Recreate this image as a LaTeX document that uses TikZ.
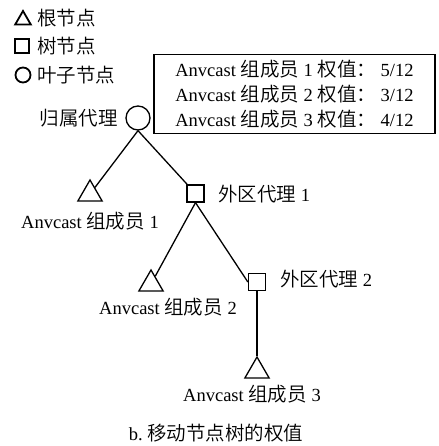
\documentclass[tikz,border=0pt]{standalone}
\usepackage{fontspec}
\setmainfont{Liberation Serif}
\newfontfamily\cjk{Noto Sans CJK SC}[UprightFont={* DemiLight}]
\newcommand\zh[1]{{\cjk\fontsize{19.5}{22}\selectfont #1}}
\usetikzlibrary{shapes.geometric}

\begin{document}
\begin{tikzpicture}[x=1pt, y=-1pt,
		every node/.style={font=\fontsize{18.5}{22}\selectfont, inner sep=0pt},
		tri/.style={draw, regular polygon, regular polygon sides=3, minimum size=28pt, line width=1.3pt},
		sq/.style={draw, rectangle, minimum size=17pt, line width=1.3pt},
		leaf/.style={draw, circle, minimum size=24pt, line width=1.3pt},
		edge/.style={line width=1.3pt}]
		%%%%% START %%%%%
		
		\useasboundingbox (0, 0) rectangle (438, 446);
		
		% legend
		\node[draw, regular polygon, regular polygon sides=3, minimum size=18pt, line width=1.8pt] (keyroot) at (23, 20) {};
		\node[anchor=west] (keyroottext) at (37, 18) {\zh{根节点}};
		\node[draw, rectangle, minimum size=14pt, line width=1.8pt] (keytree) at (22, 46) {};
		\node[anchor=west] (keytreetext) at (37, 46) {\zh{树节点}};
		\node[draw, circle, minimum size=15pt, line width=1.8pt] (keyleaf) at (23, 75) {};
		\node[anchor=west] (keyleaftext) at (37, 75) {\zh{叶子节点}};
		
		% weights
		\node[draw, line width=1.8pt, minimum width=281pt, minimum height=79pt, align=left,
			font=\fontsize{18.5}{25}\selectfont] (weights) at (294.5, 94) {%
			Anvcast \zh{组成员} 1 \zh{权值：} 5/12\\
			Anvcast \zh{组成员} 2 \zh{权值：} 3/12\\
			Anvcast \zh{组成员} 3 \zh{权值：} 4/12};
		
		% tree
		\node[leaf] (home) at (138, 118) {};
		\node[anchor=east] (hometext) at (118, 118) {\zh{归属代理}};
		
		\node[tri] (m1) at (90, 194) {};
		\node (m1text) at (90, 221) {Anvcast \zh{组成员} 1};
		
		\node[sq] (fa1) at (195.5, 193.5) {};
		\node[anchor=west] (fa1text) at (218, 194) {\zh{外区代理} 1};
		
		\node[tri] (m2) at (151, 284) {};
		\node (m2text) at (168, 307) {Anvcast \zh{组成员} 2};
		
		\node[sq] (fa2) at (257, 282) {};
		\node[anchor=west] (fa2text) at (280, 279) {\zh{外区代理} 2};
		
		\node[tri] (m3) at (257, 371) {};
		\node (m3text) at (252, 394) {Anvcast \zh{组成员} 3};
		
		\draw[edge] (home.south) -- (m1);
		\draw[edge] (home.south) -- (fa1);
		\draw[edge] (fa1.south) -- (m2);
		\draw[edge] (fa1.south) -- (fa2.west);
		\draw[edge] (fa2.south) -- (m3.corner 1);
		
		% caption
		\node (caption) at (216, 433) {b.\ \zh{移动节点树的权值}};
		
		%%%%% END %%%%%
	\end{tikzpicture}
\end{document}
